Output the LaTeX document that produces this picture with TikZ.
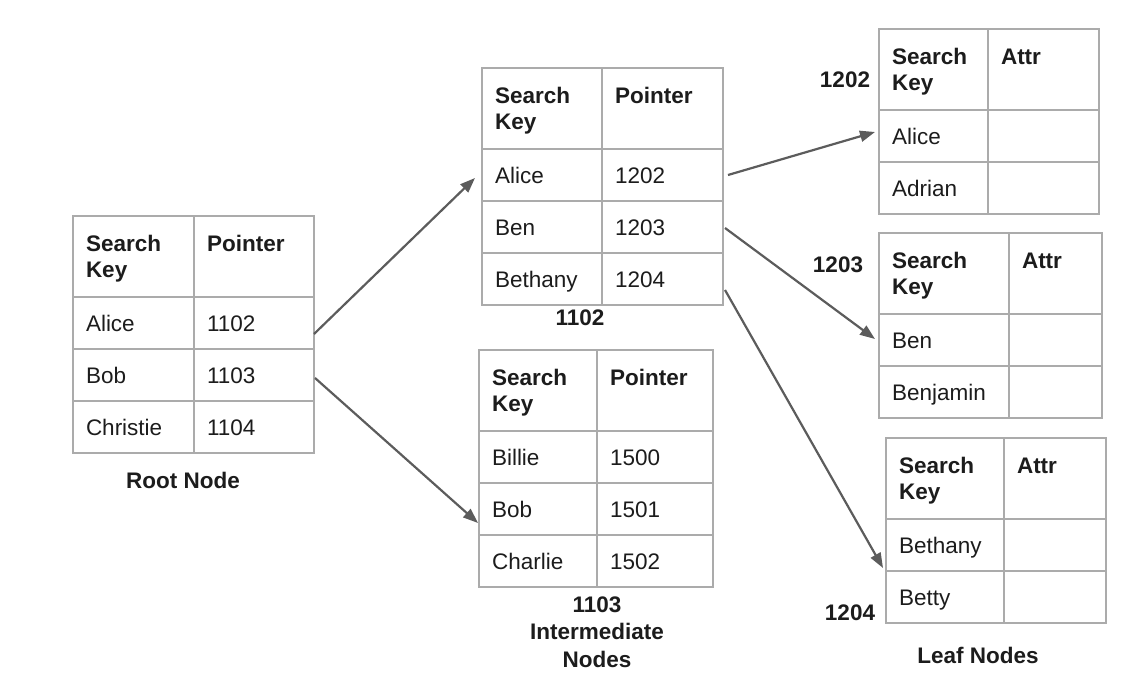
\documentclass[tikz,border=0pt]{standalone}
\usepackage{fontspec}
\setmainfont{Liberation Sans}
\usepackage{xcolor}
\usepackage{tikz}
\usetikzlibrary{arrows.meta,positioning,calc}
\definecolor{gridgray}{HTML}{ABABAB}
\definecolor{arrowgray}{HTML}{5C5C5C}
\definecolor{ink}{HTML}{1C1C1C}
\newcommand{\tblfont}{\fontsize{22.5pt}{26pt}\selectfont}

\begin{document}
\begin{tikzpicture}[
    x=1pt, y=-1pt,
    cell/.style={rectangle, draw=gridgray, line width=1.8pt, outer sep=0pt,
                 inner xsep=13pt, inner ysep=0pt, align=left, text width=#1,
                 minimum height=52pt, text height=17pt, text depth=0pt,
                 text=ink, font=\tblfont},
    head/.style={cell=#1, minimum height=81pt, text height=17pt,
                 text depth=27pt, font=\tblfont\bfseries},
    lbl/.style={text=ink, font=\fontsize{22.5pt}{27.5pt}\selectfont\bfseries,
                align=center},
    arrow/.style={-{Triangle[length=15pt,width=11pt]}, draw=arrowgray,
                  line width=2.2pt}
]
\useasboundingbox (0,0) rectangle (1138,684);

% Root node
\node[head=95pt, anchor=north west] (root-k0) at (73,216) {Search\\Key};
\node[head=94pt, right=0pt of root-k0] (root-p0) {Pointer};
\foreach \kk/\pp [count=\i] in {Alice/1102, Bob/1103, Christie/1104} {
  \pgfmathtruncatemacro{\j}{\i-1}
  \node[cell=95pt, below=0pt of root-k\j] (root-k\i) {\kk};
  \node[cell=94pt, right=0pt of root-k\i] (root-p\i) {\pp};
}
\node[lbl] (root-lbl) at (183,480) {Root Node};

% Intermediate nodes
\node[head=94pt, anchor=north west] (ia-k0) at (482,68) {Search\\Key};
\node[head=95pt, right=0pt of ia-k0] (ia-p0) {Pointer};
\foreach \kk/\pp [count=\i] in {Alice/1202, Ben/1203, Bethany/1204} {
  \pgfmathtruncatemacro{\j}{\i-1}
  \node[cell=94pt, below=0pt of ia-k\j] (ia-k\i) {\kk};
  \node[cell=95pt, right=0pt of ia-k\i] (ia-p\i) {\pp};
}
\node[lbl] (ia-lbl) at (580,318) {1102};

\node[head=92pt, anchor=north west] (ib-k0) at (479,350) {Search\\Key};
\node[head=90pt, right=0pt of ib-k0] (ib-p0) {Pointer};
\foreach \kk/\pp [count=\i] in {Billie/1500, Bob/1501, Charlie/1502} {
  \pgfmathtruncatemacro{\j}{\i-1}
  \node[cell=92pt, below=0pt of ib-k\j] (ib-k\i) {\kk};
  \node[cell=90pt, right=0pt of ib-k\i] (ib-p\i) {\pp};
}
\node[lbl] (ib-lbl) at (597,632) {1103\\Intermediate\\Nodes};

% Leaf nodes
\node[head=83pt, anchor=north west] (la-k0) at (879,29) {Search\\Key};
\node[head=85pt, right=0pt of la-k0] (la-a0) {Attr};
\foreach \kk [count=\i] in {Alice, Adrian} {
  \pgfmathtruncatemacro{\j}{\i-1}
  \node[cell=83pt, below=0pt of la-k\j] (la-k\i) {\kk};
  \node[cell=85pt, right=0pt of la-k\i] (la-a\i) {};
}
\node[lbl] (la-lbl) at (845,80) {1202};

\node[head=104pt, anchor=north west] (lb-k0) at (879,233) {Search\\Key};
\node[head=67pt, right=0pt of lb-k0] (lb-a0) {Attr};
\foreach \kk [count=\i] in {Ben, Benjamin} {
  \pgfmathtruncatemacro{\j}{\i-1}
  \node[cell=104pt, below=0pt of lb-k\j] (lb-k\i) {\kk};
  \node[cell=67pt, right=0pt of lb-k\i] (lb-a\i) {};
}
\node[lbl] (lb-lbl) at (838,265) {1203};

\node[head=92pt, anchor=north west] (lc-k0) at (886,438) {Search\\Key};
\node[head=76pt, right=0pt of lc-k0] (lc-a0) {Attr};
\foreach \kk [count=\i] in {Bethany, Betty} {
  \pgfmathtruncatemacro{\j}{\i-1}
  \node[cell=92pt, below=0pt of lc-k\j] (lc-k\i) {\kk};
  \node[cell=76pt, right=0pt of lc-k\i] (lc-a\i) {};
}
\node[lbl] (lc-lbl) at (850,613) {1204};
\node[lbl] (leaf-lbl) at (978,655) {Leaf Nodes};

% Pointers
\draw[arrow] ($(root-p1.east)+(0,11)$) -- ($(ia-k1.west)+(-7,3)$);
\draw[arrow] ($(root-p2.east)+(1,3)$) -- ($(ib-k2.west)+(-1,14)$);
\draw[arrow] ($(ia-p1.east)+(5,0)$) -- ($(la-k1.west)+(-4,-4)$);
\draw[arrow] ($(ia-p2.east)+(2,1)$) -- ($(lb-k1.west)+(-4,-1)$);
\draw[arrow] ($(ia-p3.east)+(2,11)$) -- ($(lc-k1.west)+(-3,23)$);

\end{tikzpicture}
\end{document}
